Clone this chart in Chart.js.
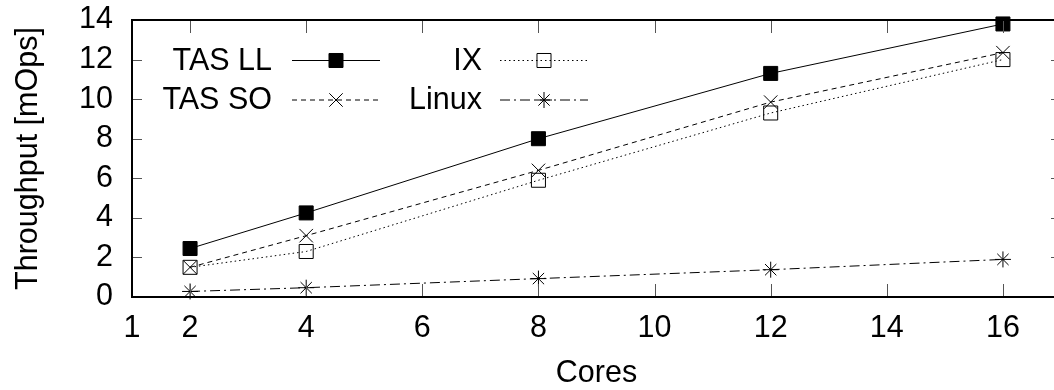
<!DOCTYPE html>
<html>
<head>
<meta charset="utf-8">
<script src="https://cdn.jsdelivr.net/npm/chart.js@4/dist/chart.umd.min.js"></script>
<style>
  html, body { margin: 0; padding: 0; background: #fff; overflow: hidden; }
  #wrap { width: 1075px; height: 390px; }
</style>
</head>
<body>
<div id="wrap"><canvas id="c" width="1075" height="390"></canvas></div>
<script>
// Throughput per core count for each network stack
const cores  = [2, 4, 8, 12, 16];
const tasLL  = [2.45, 4.25, 8.0, 11.3, 13.8];
const tasSO  = [1.5, 3.1, 6.4, 9.85, 12.35];
const ix     = [1.5, 2.3, 5.9, 9.3, 12.0];
const linux  = [0.28, 0.47, 0.93, 1.38, 1.9];

const seriesNames = ['TAS LL', 'TAS SO', 'IX', 'Linux'];
const xTickValues = [1, 2, 4, 6, 8, 10, 12, 14, 16];
const yTickValues = [0, 2, 4, 6, 8, 10, 12, 14];

const FONT = '"Liberation Sans", Arial, Helvetica, sans-serif';
const FS = 30.5;

const pts = ys => cores.map((c, i) => ({ x: c, y: ys[i] }));

function series(label, ys, style) {
  return Object.assign({
    label,
    data: pts(ys),
    borderColor: '#000',
    borderWidth: 1,
    pointBorderColor: '#000',
    pointBorderWidth: 1,
    fill: false,
    tension: 0,
    clip: false
  }, style);
}

const datasets = [
  series(seriesNames[0], tasLL, { pointStyle: 'rect', pointRadius: 9.9, pointBackgroundColor: '#000', borderDash: [], order: 4 }),
  series(seriesNames[1], tasSO, { pointStyle: 'crossRot', pointRadius: 9.5, pointBackgroundColor: '#000', borderDash: [5, 4], order: 3 }),
  series(seriesNames[2], ix,    { pointStyle: 'rect', pointRadius: 9.9, pointBackgroundColor: 'rgba(0,0,0,0)', borderDash: [1.5, 3], order: 2 }),
  series(seriesNames[3], linux, { pointStyle: 'star', pointRadius: 8, pointBackgroundColor: '#000', borderDash: [10, 4, 2, 4], order: 1 })
];

// Frame around the plot area with inward, mirrored tick marks
const framePlugin = {
  id: 'frame',
  afterDatasetsDraw(chart) {
    const { ctx, chartArea: a, scales } = chart;
    ctx.save();
    ctx.strokeStyle = '#555';
    ctx.lineWidth = 1;
    ctx.setLineDash([]);
    ctx.beginPath();
    scales.x.ticks.forEach(t => {
      if (t.value <= scales.x.min || t.value >= scales.x.max) return;
      const px = Math.round(scales.x.getPixelForValue(t.value)) + 0.5;
      ctx.moveTo(px, a.bottom); ctx.lineTo(px, a.bottom - 13);
      ctx.moveTo(px, a.top);    ctx.lineTo(px, a.top + 13);
    });
    scales.y.ticks.forEach(t => {
      if (t.value <= scales.y.min || t.value >= scales.y.max) return;
      const py = Math.round(scales.y.getPixelForValue(t.value)) + 0.5;
      ctx.moveTo(a.left, py);  ctx.lineTo(a.left + 10, py);
      ctx.moveTo(a.right, py); ctx.lineTo(a.right - 10, py);
    });
    ctx.stroke();
    ctx.strokeStyle = '#000';
    ctx.lineWidth = 2;
    ctx.strokeRect(a.left, a.top, a.right - a.left, a.bottom - a.top);
    ctx.restore();
  }
};

// Key inside the plot: label text right-aligned, then a line sample with its marker
const keyPlugin = {
  id: 'key',
  afterDraw(chart, args, opts) {
    const { ctx } = chart;
    const H = Chart.helpers;
    ctx.save();
    chart.data.datasets.forEach((ds, i) => {
      const slot = opts.slots[i];
      ctx.font = FS + 'px ' + FONT;
      ctx.fillStyle = '#000';
      ctx.textAlign = 'right';
      ctx.textBaseline = 'alphabetic';
      ctx.fillText(ds.label, slot.textRight, slot.y + 9.5);
      ctx.strokeStyle = ds.borderColor;
      ctx.lineWidth = ds.borderWidth;
      ctx.setLineDash(ds.borderDash || []);
      ctx.beginPath();
      ctx.moveTo(slot.x0, slot.y + 0.5);
      ctx.lineTo(slot.x1, slot.y + 0.5);
      ctx.stroke();
      ctx.setLineDash([]);
      ctx.fillStyle = ds.pointBackgroundColor;
      ctx.strokeStyle = ds.pointBorderColor;
      ctx.lineWidth = ds.pointBorderWidth;
      H.drawPoint(ctx, { pointStyle: ds.pointStyle, radius: ds.pointRadius, rotation: 0, borderWidth: 1 },
        (slot.x0 + slot.x1) / 2, slot.y + 0.5);
    });
    ctx.restore();
  }
};

new Chart(document.getElementById('c'), {
  type: 'line',
  data: { datasets },
  plugins: [framePlugin, keyPlugin],
  options: {
    responsive: false,
    animation: false,
    events: [],
    layout: { padding: { left: 0, right: 14, top: 20, bottom: 0 } },
    plugins: {
      legend: { display: false },
      tooltip: { enabled: false },
      key: {
        slots: [
          { textRight: 272, x0: 292, x1: 380, y: 60 },
          { textRight: 272, x0: 292, x1: 380, y: 99.5 },
          { textRight: 482, x0: 500, x1: 588, y: 60 },
          { textRight: 482, x0: 500, x1: 588, y: 99.5 }
        ]
      }
    },
    scales: {
      x: {
        type: 'linear',
        min: 1,
        max: 17,
        afterBuildTicks: s => { s.ticks = xTickValues.map(v => ({ value: v })); },
        afterFit: s => { s.height = 93; },
        grid: { display: false, drawTicks: false },
        border: { display: false },
        ticks: { color: '#000', font: { family: FONT, size: FS }, padding: 13, maxRotation: 0, autoSkip: false },
        title: { display: true, text: 'Cores', color: '#000', font: { family: FONT, size: FS }, padding: { top: 0, bottom: -2 } }
      },
      y: {
        min: 0,
        max: 14,
        afterBuildTicks: s => { s.ticks = yTickValues.map(v => ({ value: v })); },
        afterFit: s => { s.width = 132; s.paddingTop = 0; s.paddingBottom = 0; },
        grid: { display: false, drawTicks: false },
        border: { display: false },
        ticks: { color: '#000', font: { family: FONT, size: FS, lineHeight: 0.5 }, padding: 19, autoSkip: false },
        title: { display: true, text: 'Throughput [mOps]', color: '#000', font: { family: FONT, size: FS }, padding: { top: 10, bottom: 0 } }
      }
    }
  }
});
</script>
</body>
</html>
